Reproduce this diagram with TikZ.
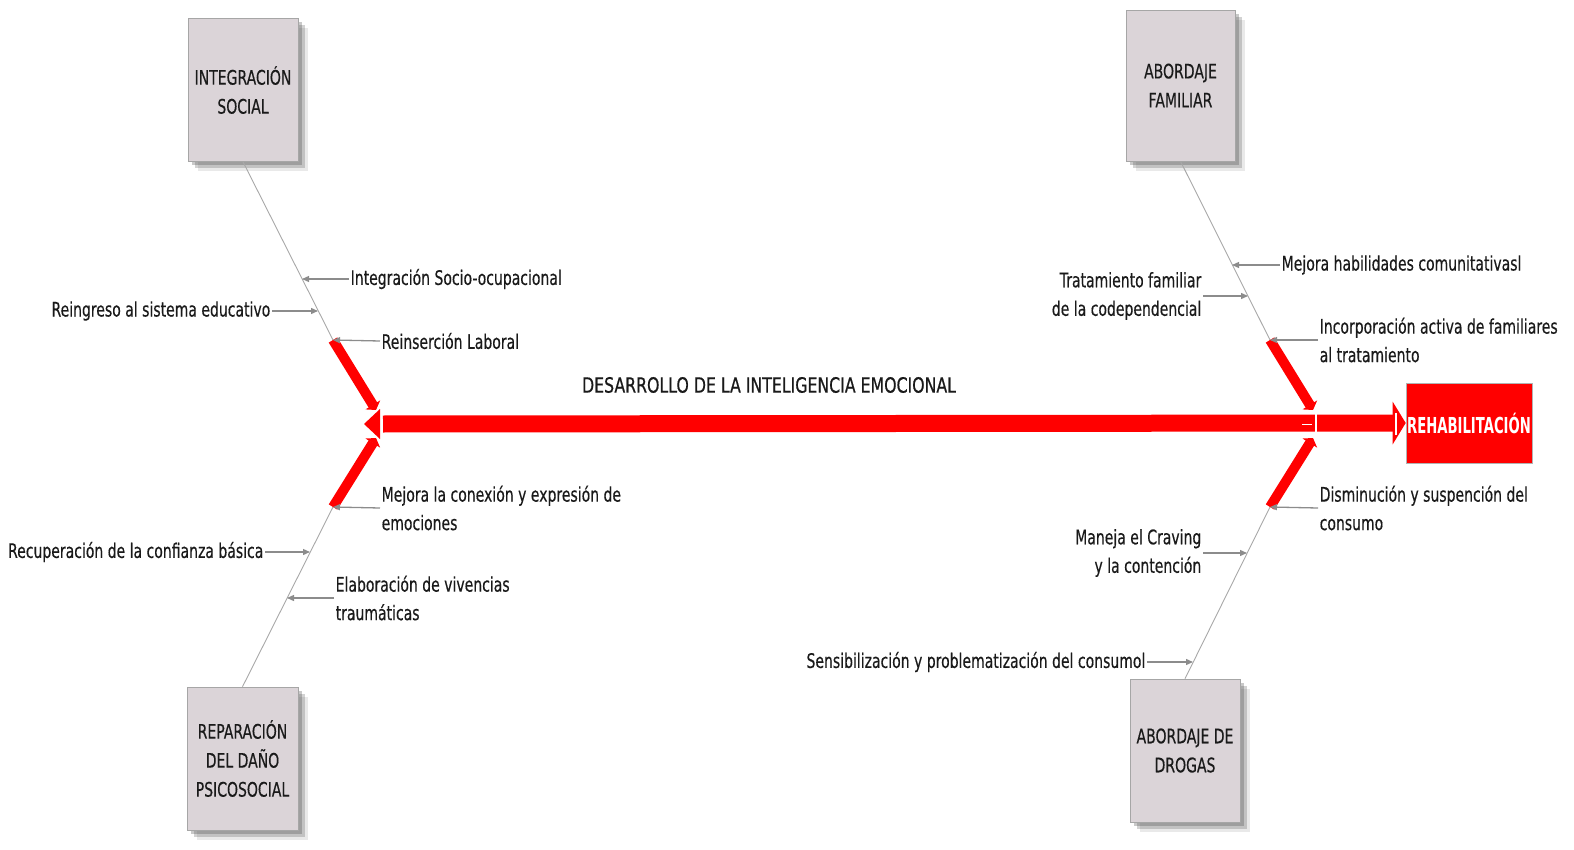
\documentclass[tikz,border=0pt]{standalone}
\usepackage{fontspec}
\setmainfont{DejaVu Sans}[FakeStretch=0.70, FakeBold=0.4]
\newfontfamily\rehabfont{DejaVu Sans Bold}[FakeStretch=0.60]
\newfontfamily\titlefont{DejaVu Sans}[FakeStretch=0.75, FakeBold=0.6]
\usetikzlibrary{arrows.meta,shadows}
\definecolor{boxfill}{HTML}{DBD4D8}
\definecolor{lab}{HTML}{1A1A1A}
\definecolor{thin}{HTML}{A8A8A8}
\definecolor{arr}{HTML}{8C8C8C}
\definecolor{spinered}{HTML}{FF0000}
\tikzset{
 catbox/.style={rectangle, fill=boxfill, draw=black!35, line width=0.6pt, align=center, text=lab,
   font=\fontsize{20}{29}\selectfont, inner sep=0pt,
   drop shadow={shadow xshift=4pt, shadow yshift=-4pt, opacity=.30, fill=black!70},
   drop shadow={shadow xshift=7pt, shadow yshift=-7pt, opacity=.25, fill=black!70},
   drop shadow={shadow xshift=10pt, shadow yshift=-10pt, opacity=.12, fill=black!70}},
 lbl/.style={text=lab, font=\fontsize{20}{28.5}\selectfont, inner sep=1.5pt},
 bone/.style={draw=thin, line width=0.9pt},
 pin/.style={draw=arr, line width=1.3pt, -{Triangle[length=7pt,width=6pt]}},
 redbone/.style={draw=spinered, line width=10pt, -{Triangle[length=6pt,width=17pt]}},
}
\begin{document}
\begin{tikzpicture}[x=1pt,y=-1pt]
\useasboundingbox (0,0) rectangle (1574,850);

% category boxes
\node[catbox, minimum width=110pt, minimum height=143pt] (is) at (243,90) {INTEGRACIÓN\\SOCIAL};
\node[catbox, minimum width=109pt, minimum height=151pt] (af) at (1180.5,85.5) {ABORDAJE\\FAMILIAR};
\node[catbox, minimum width=111pt, minimum height=143pt] (rd) at (242.5,758.5) {REPARACIÓN\\DEL DAÑO\\PSICOSOCIAL};
\node[catbox, minimum width=110pt, minimum height=143pt] (ad) at (1185,750.5) {ABORDAJE DE\\DROGAS};

% effect box
\node[rectangle, fill=spinered, draw=black!30, line width=0.6pt, minimum width=126pt, minimum height=80pt,
  text=white, font=\rehabfont\fontsize{22}{24}\selectfont, inner sep=0pt] (rh) at (1469,423) {REHABILITACIÓN};

% bone coordinates
\coordinate (L1) at (333,340);
\coordinate (L2) at (333,507);
\coordinate (R1) at (1270,340);
\coordinate (R2) at (1270,507);
\coordinate (L1e) at (376,410);
\coordinate (L2e) at (376,438);
\coordinate (R1e) at (1313,410);
\coordinate (R2e) at (1313,438);
\coordinate (jL) at (383,424);

% thin bones
\draw[bone] (is.south) -- (L1);
\draw[bone] (rd.north) -- (L2);
\draw[bone] (af.south) -- (R1);
\draw[bone] (ad.north) -- (R2);

% spine
\draw[spinered, line width=17pt, -{Triangle[length=13pt,width=42pt]}] (jL) -- (rh.west);
\draw[white, line width=1.5pt] (1396,413) -- (1396,435);
\fill[spinered] (380,409) -- (380,439) -- (364,424) -- cycle;
\draw[white, line width=1.2pt] (381.5,408) -- (381.5,440);
\draw[white, line width=1.2pt] (1316,408) -- (1316,440);
\draw[white, line width=1pt] (1302,424) -- (1312,424);

% red bones
\draw[redbone] (L1) -- (L1e);
\draw[redbone] (L2) -- (L2e);
\draw[redbone] (R1) -- (R1e);
\draw[redbone] (R2) -- (R2e);

% title
\node[text=lab, font=\titlefont\fontsize{21}{24}\selectfont] (title) at (769,385) {DESARROLLO DE LA INTELIGENCIA EMOCIONAL};

% cause labels and pins
\coordinate (p1) at (302,279);
\coordinate (p2) at (318,311);
\coordinate (p4) at (333,507);
\coordinate (p5) at (310,552);
\coordinate (p6) at (287,598);
\coordinate (p7) at (1232,265);
\coordinate (p8) at (1248,296);
\coordinate (p11) at (1247,553);
\coordinate (p12) at (1193,662);

\node[lbl, anchor=west] (t1) at (349,279) {Integración Socio-ocupacional};
\node[lbl, anchor=east] (t2) at (272,311) {Reingreso al sistema educativo};
\node[lbl, anchor=west] (t3) at (380,341) {Reinserción Laboral};
\node[lbl, anchor=west, align=left] (t4) at (380,508) {Mejora la conexión y expresión de\\emociones};
\node[lbl, anchor=east] (t5) at (265,552) {Recuperación de la confianza básica};
\node[lbl, anchor=west, align=left] (t6) at (334,598) {Elaboración de vivencias\\traumáticas};
\node[lbl, anchor=west] (t7) at (1280,265) {Mejora habilidades comunitativasl};
\node[lbl, anchor=east, align=right] (t8) at (1203,296) {Tratamiento familiar\\de la codependencial};
\node[lbl, anchor=west, align=left] (t9) at (1318,340) {Incorporación activa de familiares\\al tratamiento};
\node[lbl, anchor=west, align=left] (t10) at (1318,508) {Disminución y suspención del\\consumo};
\node[lbl, anchor=east, align=right] (t11) at (1203,553) {Maneja el Craving\\y la contención};
\node[lbl, anchor=east] (t12) at (1147,662) {Sensibilización y problematización del consumol};

\draw[pin] (t1.west) -- (p1);
\draw[pin] (t2.east) -- (p2);
\draw[pin] (t3.west) -- (L1);
\draw[pin] (t4.west) -- (p4);
\draw[pin] (t5.east) -- (p5);
\draw[pin] (t6.west) -- (p6);
\draw[pin] (t7.west) -- (p7);
\draw[pin] (t8.east) -- (p8);
\draw[pin] (t9.west) -- (R1);
\draw[pin] (t10.west) -- (R2);
\draw[pin] (t11.east) -- (p11);
\draw[pin] (t12.east) -- (p12);
\end{tikzpicture}
\end{document}
